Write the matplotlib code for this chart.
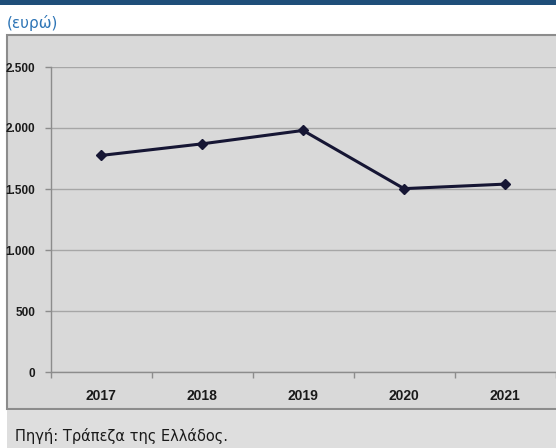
import matplotlib
matplotlib.use("Agg")
import matplotlib.pyplot as plt
from matplotlib.patches import Rectangle
from matplotlib.ticker import FuncFormatter, FixedLocator

# Data
years = ["2017", "2018", "2019", "2020", "2021"]
values = [1775, 1870, 1980, 1503, 1540]
y_ticks = [0, 500, 1000, 1500, 2000, 2500]

unit_label = "(ευρώ)"
source_label = "Πηγή: Τράπεζα της Ελλάδος."

W, H, DPI = 556, 448, 100
fig = plt.figure(figsize=(W / DPI, H / DPI), dpi=DPI)
fig.patch.set_facecolor("white")

def px_rect(x0, y0, x1, y1, **kw):
    """Rectangle given in pixel coords measured from the top-left corner."""
    r = Rectangle((x0 / W, 1 - y1 / H), (x1 - x0) / W, (y1 - y0) / H,
                  transform=fig.transFigure, **kw)
    fig.patches.append(r)
    return r

# Header bar
px_rect(0, 0, W, 5, facecolor="#1f4e79", edgecolor="none", zorder=-2)
# Chart panel
px_rect(7, 35, W + 5, 409, facecolor="#d9d9d9", edgecolor="#8c8c8c",
        linewidth=1.5, zorder=-2)
# Footer panel
px_rect(7, 410, W, H, facecolor="#dedede", edgecolor="none", zorder=-2)

fig.text(7 / W, 1 - 23 / H, unit_label, color="#2e75b6", fontsize=11,
         family="DejaVu Sans", ha="left", va="center")
fig.text(15 / W, 1 - 436 / H, source_label, color="#1a1a1a", fontsize=10.5,
         family="DejaVu Sans", ha="left", va="center")

# Plot area: y=0 at 372 px, y=2500 at 67 px; x from 50.5 px to 555.5 px
left, right = 50.5 / W, 555.5 / W
bottom, top = 1 - 372 / H, 1 - 67 / H
ax = fig.add_axes([left, bottom, right - left, top - bottom])
ax.set_zorder(1)
ax.set_facecolor("none")

x = list(range(len(years)))
ax.plot(x, values, color="#161634", linewidth=2.2, marker="D",
        markersize=5, markerfacecolor="#161634", markeredgecolor="#161634",
        zorder=3, clip_on=False)

ax.set_xlim(-0.5, len(years) - 0.5)
ax.set_ylim(0, 2500)

ax.yaxis.set_major_locator(FixedLocator(y_ticks))
ax.yaxis.set_major_formatter(FuncFormatter(lambda v, p: f"{int(v):,}".replace(",", ".")))
ax.grid(axis="y", color="#a6a6a6", linewidth=1.0, zorder=1)
ax.set_axisbelow(True)

ax.set_xticks(x)
ax.set_xticklabels(years)
ax.set_xticks([i - 0.5 for i in range(len(years) + 1)], minor=True)
ax.tick_params(axis="x", which="major", length=0, pad=12,
               labelsize=10, colors="#1a1a1a")
ax.tick_params(axis="x", which="minor", length=4, width=1.0, color="#8c8c8c",
               direction="out")
ax.tick_params(axis="y", which="major", length=4, width=1.0, color="#8c8c8c",
               direction="out", pad=7, labelsize=8.5, labelcolor="#1a1a1a")

for lbl in ax.get_xticklabels() + ax.get_yticklabels():
    lbl.set_fontfamily("Liberation Sans")
    lbl.set_fontweight("bold")

for side in ("top", "right"):
    ax.spines[side].set_visible(False)
for side in ("left", "bottom"):
    ax.spines[side].set_color("#8c8c8c")
    ax.spines[side].set_linewidth(1.0)

fig.savefig("out.png", dpi=DPI)
